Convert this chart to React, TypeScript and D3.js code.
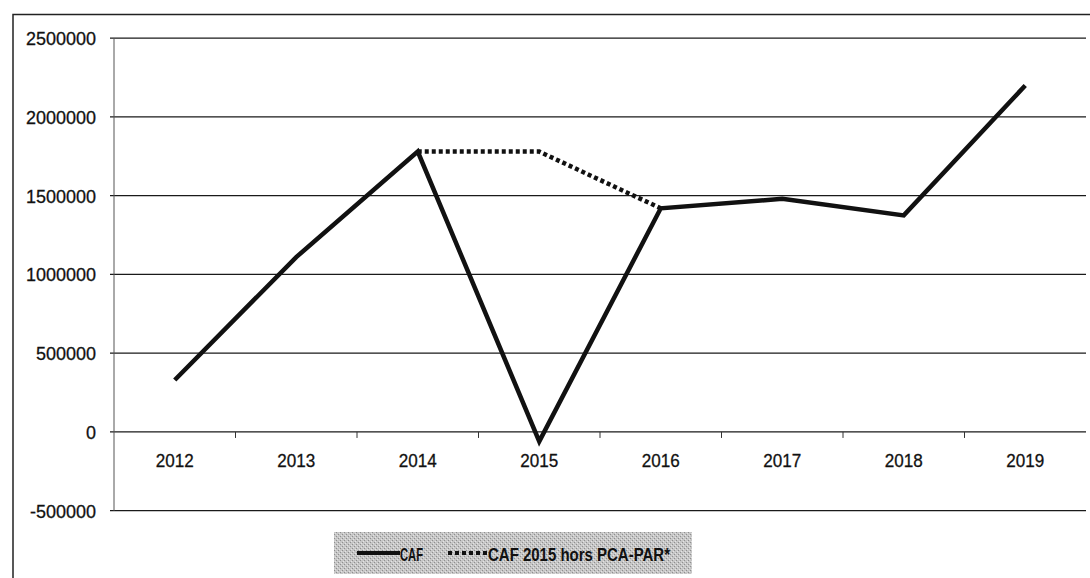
import React from "react";
import * as d3 from "d3";

const years = ["2012", "2013", "2014", "2015", "2016", "2017", "2018", "2019"];
const caf = [330000, 1110000, 1780000, -60000, 1420000, 1480000, 1375000, 2200000];
const cafHorsYears = ["2014", "2015", "2016"];
const cafHors = [1780000, 1780000, 1420000];
const yTicks = [-500000, 0, 500000, 1000000, 1500000, 2000000, 2500000];
const legendLabels = ["CAF", "CAF 2015 hors PCA-PAR*"];

export default function App() {
  const W = 1090;
  const H = 578;
  const left = 114;
  const right = 1086;
  const top = 38.2;
  const bottom = 510.7;

  const x = d3.scaleBand<string>().domain(years).range([left, right]);
  const y = d3.scaleLinear().domain([-500000, 2500000]).range([bottom, top]);
  const cx = (d: string) => (x(d) as number) + x.bandwidth() / 2;

  const line = d3
    .line<number>()
    .x((_, i) => cx(years[i]))
    .y((v) => y(v));
  const line2 = d3
    .line<number>()
    .x((_, i) => cx(cafHorsYears[i]))
    .y((v) => y(v));

  const boundaries = years.slice(1).map((d) => x(d) as number);
  const font = "'Liberation Sans', Arial, sans-serif";

  return (
    <svg
      width={W}
      height={H}
      style={{ position: "absolute", left: 0, top: 0, background: "#fff" }}
    >
      <defs>
        <pattern id="dither" width="4" height="4" patternUnits="userSpaceOnUse">
          <rect width="4" height="4" fill="#c6c6c6" />
          <rect x="0" y="0" width="1" height="1" fill="#8f8f8f" />
          <rect x="2" y="2" width="1" height="1" fill="#8f8f8f" />
          <rect x="1" y="3" width="1" height="1" fill="#e4e4e4" />
          <rect x="3" y="1" width="1" height="1" fill="#e4e4e4" />
        </pattern>
      </defs>
      {/* outer frame */}
      <rect x={13} y={14.5} width={1100} height={600} fill="none" stroke="#222" strokeWidth={1.5} />

      {/* gridlines and y ticks */}
      {yTicks.map((t) => (
        <g key={t}>
          <line x1={110} x2={right} y1={y(t)} y2={y(t)} stroke="#1a1a1a" strokeWidth={1.2} />
          <text
            x={96}
            y={y(t)}
            dy="0.36em"
            textAnchor="end"
            fontFamily={font}
            fontSize={19}
            fill="#111"
            stroke="#111"
            strokeWidth={0.3}
            textLength={t < 0 ? 66 : String(t).length * 10}
            lengthAdjust="spacingAndGlyphs"
          >
            {String(t)}
          </text>
        </g>
      ))}
      {/* y axis */}
      <line x1={left} x2={left} y1={top} y2={bottom} stroke="#555" strokeWidth={1} />

      {/* category ticks on zero line */}
      {boundaries.map((b, i) => (
        <line key={i} x1={b} x2={b} y1={y(0)} y2={y(0) + 6} stroke="#333" strokeWidth={1} />
      ))}
      {years.map((d) => (
        <text
          key={d}
          x={cx(d)}
          y={y(0) + 35}
          textAnchor="middle"
          fontFamily={font}
          fontSize={19}
          fill="#111"
          stroke="#111"
          strokeWidth={0.3}
          textLength={38}
          lengthAdjust="spacingAndGlyphs"
        >
          {d}
        </text>
      ))}

      {/* series */}
      <path d={line2(cafHors) as string} fill="none" stroke="#111" strokeWidth={4.5} strokeDasharray="4 3" />
      <path d={line(caf) as string} fill="none" stroke="#111" strokeWidth={4.5} strokeLinejoin="miter" />

      {/* legend */}
      <rect x={334} y={532} width={358} height={42} fill="url(#dither)" />
      <line x1={357} x2={400} y1={553} y2={553} stroke="#111" strokeWidth={4} />
      <text
        x={400}
        y={561}
        fontFamily={font}
        fontWeight={700}
        fontSize={18}
        fill="#111"
        textLength={23}
        lengthAdjust="spacingAndGlyphs"
      >
        {legendLabels[0]}
      </text>
      <line x1={448} x2={487} y1={553} y2={553} stroke="#111" strokeWidth={4} strokeDasharray="4 3" />
      <text
        x={488}
        y={561}
        fontFamily={font}
        fontWeight={700}
        fontSize={18}
        fill="#111"
        textLength={182}
        lengthAdjust="spacingAndGlyphs"
      >
        {legendLabels[1]}
      </text>
    </svg>
  );
}
